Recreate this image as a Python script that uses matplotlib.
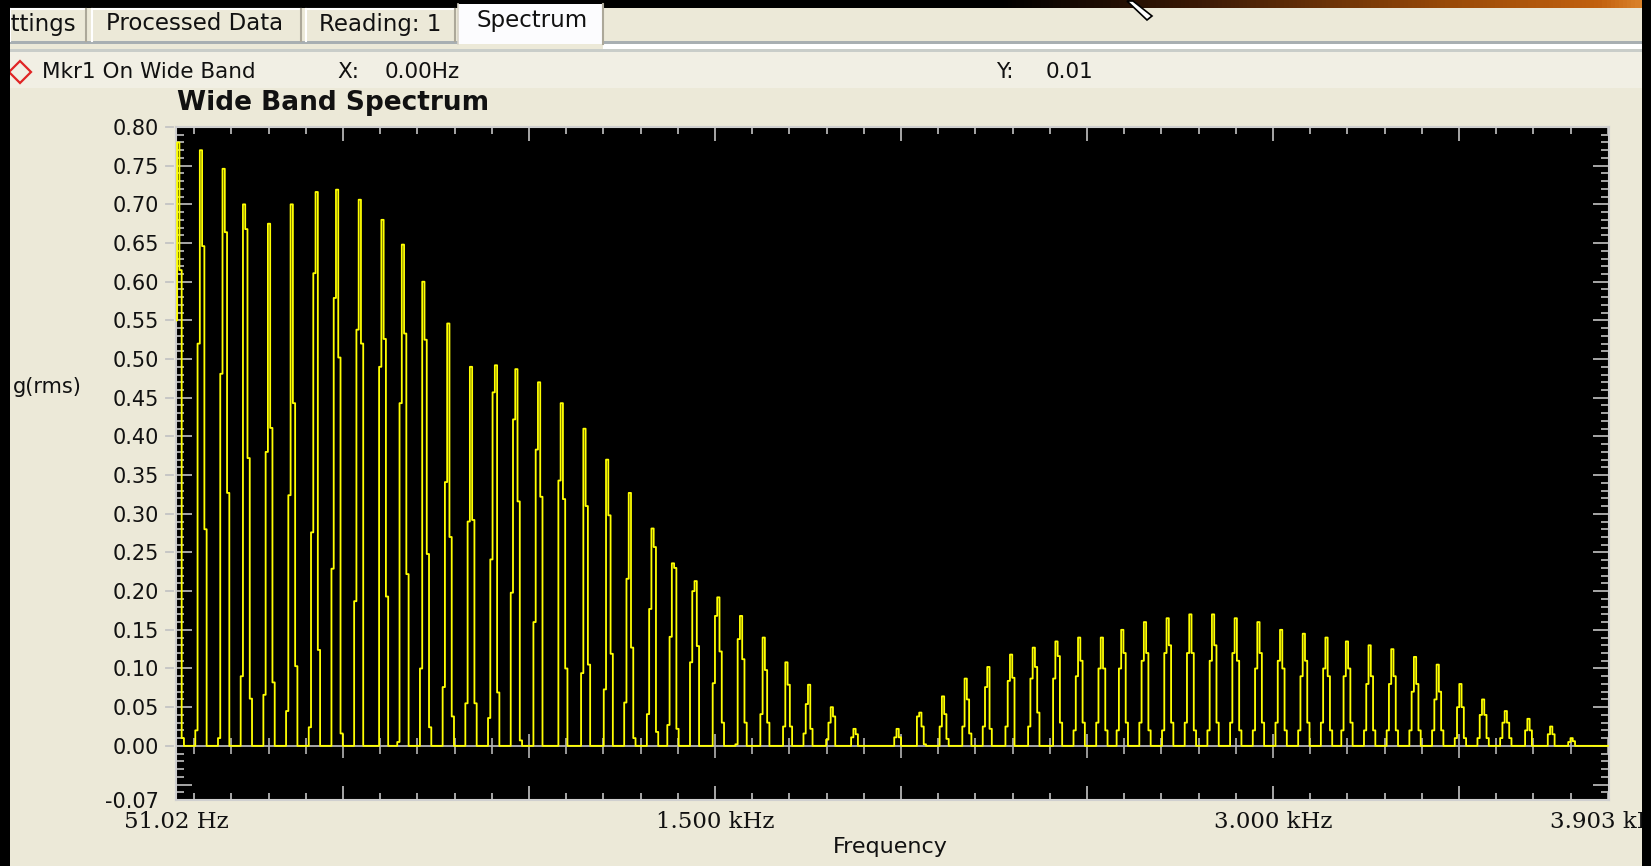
import numpy as np
import matplotlib
matplotlib.use("Agg")
import matplotlib.pyplot as plt
from matplotlib.patches import Rectangle, Polygon
from matplotlib.lines import Line2D
from matplotlib.ticker import MultipleLocator, FixedLocator, FixedFormatter
from matplotlib.transforms import blended_transform_factory

W, H, DPI = 1651, 866, 100

# ---- spectrum data: harmonic lines and the FFT bins around each one ----
harmonic_hz = [60, 121, 181, 242, 302, 362, 423, 483, 544, 604,
               664, 725, 785, 846, 906, 966, 1027, 1087, 1148, 1208,
               1268, 1329, 1389, 1450, 1510, 1570, 1631, 1691, 1752, 1812,
               1872, 1933, 1993, 2054, 2114, 2174, 2235, 2295, 2356, 2416,
               2476, 2537, 2597, 2658, 2718, 2778, 2839, 2899, 2960, 3020,
               3080, 3141, 3201, 3262, 3322, 3382, 3443, 3503, 3564, 3624,
               3684, 3745, 3805]

# amplitude (g rms) of the bins two below .. two above each harmonic
bin_m2 = [0.0, 0.02, 0.01, 0.09, 0.066, 0.045, 0.024, 0.229, 0.187, 0.0,
          0.005, 0.10, 0.076, 0.055, 0.036, 0.198, 0.16, 0.0, 0.0, 0.0,
          0.056, 0.041, 0.027, 0.108, 0.081, 0.002, 0.0, 0.0, 0.016, 0.008,
          0.0, 0.0, 0.0, 0.0, 0.0, 0.0, 0.025, 0.025, 0.025, 0.0,
          0.02, 0.03, 0.02, 0.03, 0.02, 0.03, 0.02, 0.03, 0.02, 0.03,
          0.02, 0.03, 0.02, 0.02, 0.02, 0.02, 0.02, 0.01, 0.01, 0.01,
          0.0, 0.0, 0.0]
bin_m1 = [0.55, 0.52, 0.481, 0.700, 0.380, 0.324, 0.276, 0.579, 0.538, 0.49,
          0.443, 0.60, 0.341, 0.29, 0.241, 0.422, 0.383, 0.343, 0.094, 0.073,
          0.216, 0.177, 0.141, 0.20, 0.168, 0.138, 0.041, 0.025, 0.054, 0.03,
          0.011, 0.0, 0.011, 0.038, 0.025, 0.025, 0.076, 0.084, 0.087, 0.087,
          0.09, 0.10, 0.10, 0.11, 0.12, 0.12, 0.11, 0.12, 0.10, 0.11,
          0.09, 0.10, 0.09, 0.08, 0.08, 0.07, 0.06, 0.05, 0.04, 0.03,
          0.02, 0.015, 0.005]
bin_0 = [0.78, 0.77, 0.746, 0.668, 0.675, 0.700, 0.611, 0.719, 0.706, 0.68,
         0.648, 0.525, 0.546, 0.49, 0.457, 0.487, 0.47, 0.443, 0.41, 0.37,
         0.327, 0.281, 0.236, 0.213, 0.192, 0.168, 0.14, 0.108, 0.079, 0.05,
         0.022, 0.0, 0.022, 0.043, 0.064, 0.087, 0.102, 0.118, 0.127, 0.135,
         0.14, 0.14, 0.15, 0.16, 0.165, 0.17, 0.17, 0.165, 0.16, 0.15,
         0.145, 0.14, 0.135, 0.13, 0.125, 0.115, 0.105, 0.08, 0.06, 0.045,
         0.035, 0.025, 0.01]
bin_p1 = [0.615, 0.646, 0.664, 0.372, 0.411, 0.443, 0.716, 0.502, 0.520, 0.526,
          0.533, 0.248, 0.27, 0.292, 0.492, 0.316, 0.322, 0.319, 0.31, 0.298,
          0.127, 0.257, 0.23, 0.129, 0.122, 0.112, 0.098, 0.079, 0.022, 0.038,
          0.015, 0.0, 0.011, 0.025, 0.041, 0.06, 0.022, 0.088, 0.102, 0.116,
          0.11, 0.10, 0.12, 0.12, 0.13, 0.12, 0.13, 0.11, 0.12, 0.10,
          0.11, 0.09, 0.10, 0.09, 0.09, 0.08, 0.07, 0.05, 0.04, 0.03,
          0.02, 0.015, 0.006]
bin_p2 = [0.01, 0.28, 0.327, 0.061, 0.082, 0.103, 0.124, 0.016, 0.0, 0.193,
          0.222, 0.024, 0.038, 0.055, 0.069, 0.007, 0.0, 0.10, 0.105, 0.119,
          0.01, 0.018, 0.022, 0.0, 0.03, 0.03, 0.03, 0.025, 0.0, 0.0,
          0.0, 0.0, 0.0, 0.002, 0.009, 0.016, 0.0, 0.0, 0.043, 0.03,
          0.03, 0.02, 0.03, 0.02, 0.03, 0.02, 0.03, 0.02, 0.03, 0.02,
          0.03, 0.02, 0.03, 0.02, 0.02, 0.02, 0.02, 0.01, 0.01, 0.01,
          0.0, 0.0, 0.0]

bin_hz = 6.1
f_start, f_stop = 51.02, 3903.0
y_min, y_max = -0.07, 0.80

y_tick_values = [-0.07, -0.05, 0.00, 0.05, 0.10, 0.15, 0.20, 0.25, 0.30, 0.35,
                 0.40, 0.45, 0.50, 0.55, 0.60, 0.65, 0.70, 0.75, 0.80]
y_tick_text = ["-0.07", "", "0.00", "0.05", "0.10", "0.15", "0.20", "0.25", "0.30",
               "0.35", "0.40", "0.45", "0.50", "0.55", "0.60", "0.65", "0.70",
               "0.75", "0.80"]
x_label_hz = [51.02, 1500, 3000, 3903]
x_label_text = ["51.02 Hz", "1.500 kHz", "3.000 kHz", "3.903 kHz"]
tab_text = ["Settings", "Processed Data", "Reading: 1", "Spectrum"]

# ---- assemble the bin-by-bin spectrum ----
freqs = np.arange(f_start, f_stop + bin_hz / 2, bin_hz)
amps = np.zeros_like(freqs)
for f, vals in zip(harmonic_hz, zip(bin_m2, bin_m1, bin_0, bin_p1, bin_p2)):
    c = int(round((f - f_start) / bin_hz))
    for off, v in zip(range(-2, 3), vals):
        i = c + off
        if 0 <= i < len(amps):
            amps[i] = v

PANEL = "#ECE9D8"
FONT = "DejaVu Sans"

fig = plt.figure(figsize=(W / DPI, H / DPI), dpi=DPI)
fig.patch.set_facecolor(PANEL)


def rect(x0, y0, x1, y1, color, z=1, edge="none", lw=0):
    fig.add_artist(Rectangle((x0 / W, 1 - y1 / H), (x1 - x0) / W, (y1 - y0) / H,
                             transform=fig.transFigure, facecolor=color,
                             edgecolor=edge, lw=lw, zorder=z))


def seg(x0, y0, x1, y1, color, lw=1.0, z=6):
    fig.add_artist(Line2D([x0 / W, x1 / W], [1 - y0 / H, 1 - y1 / H],
                          transform=fig.transFigure, color=color, lw=lw, zorder=z))


def ftext(x, y, s, **kw):
    kw.setdefault("family", FONT)
    kw.setdefault("va", "center")
    kw.setdefault("color", "#111111")
    fig.text(x / W, 1 - y / H, s, **kw)


# ---- window strip across the top (dark to orange) ----
strip = fig.add_axes([0, 1 - 8 / H, 1, 8 / H])
strip.set_axis_off()
xs = np.linspace(0, W, 400)
stops = [0, 1000, 1200, 1450, 1600, W]
cols = np.array([[0, 0, 0], [0, 0, 0], [0.23, 0.10, 0.02], [0.60, 0.29, 0.03],
                 [0.76, 0.38, 0.06], [0.88, 0.54, 0.19]])
grad = np.stack([np.interp(xs, stops, cols[:, k]) for k in range(3)], axis=-1)
strip.imshow(grad[None, :, :], aspect="auto", extent=(0, 1, 0, 1))

# mouse pointer tail poking into the strip
fig.add_artist(Polygon([(1127 / W, 1 - 1 / H), (1133 / W, 1 - 1 / H),
                        (1152 / W, 1 - 16 / H), (1147 / W, 1 - 20 / H)],
                       closed=True, transform=fig.transFigure,
                       facecolor="white", edgecolor="black", lw=1.2, zorder=8))

# ---- tab row ----
rect(0, 8, W, 41, PANEL, z=1)
tabs = [(10, 86), (92, 301), (306, 455)]
for (x0, x1) in tabs:
    rect(x0, 8, x1, 41, PANEL, z=2)
    seg(x0, 41, x0, 9, "white", 1.5)
    seg(x0, 9, x1, 9, "white", 1.5)
    seg(x1, 9, x1, 41, "#ACA899", 1.5)
rect(458, 4, 603, 44, "#FCFCFE", z=3)
seg(458, 44, 458, 4, "#D8D4C8", 1.2)
seg(603, 4, 603, 44, "#ACA899", 1.5)
ftext(76, 24, tab_text[0], ha="right", size=16.5)
ftext(106, 24, tab_text[1], ha="left", size=16.5)
ftext(319, 24, tab_text[2], ha="left", size=16.5)
ftext(476, 20, tab_text[3], ha="left", size=16.5)

# separator under the tabs and the marker read-out row
rect(0, 41, W, 44, "#A8AFB2", z=2)
rect(603, 44, W, 49, "#FFFFFF", z=2)
rect(0, 49, W, 52, "#C9CDC9", z=2)
rect(603, 41, W, 44, "#A8AFB2", z=4)
rect(0, 52, W, 88, "#F1EFE4", z=1)

fig.add_artist(Polygon([(9 / W, 1 - 72 / H), (20 / W, 1 - 61 / H),
                        (31 / W, 1 - 72 / H), (20 / W, 1 - 83 / H)],
                       closed=True, transform=fig.transFigure, facecolor="none",
                       edgecolor="#E02424", lw=1.6, zorder=5))
ftext(42, 72, "Mkr1 On Wide Band", size=15.5)
ftext(337, 72, "X:", size=15.5)
ftext(385, 72, "0.00Hz", size=15.5)
ftext(996, 72, "Y:", size=15.5)
ftext(1046, 72, "0.01", size=15.5)

# ---- chart ----
ftext(177, 103, "Wide Band Spectrum", size=19, weight="bold")
ftext(13, 387, "g(rms)", size=15)
ftext(890, 847, "Frequency", ha="center", size=16)

L, R, T, B = 176, 1609, 127, 800
ax = fig.add_axes([L / W, 1 - B / H, (R - L) / W, (B - T) / H])
ax.set_facecolor("black")
ax.set_xlim(f_start, f_stop)
ax.set_ylim(y_min, y_max)

ax.axhline(0.0, color="#B4B4B4", lw=1.3, zorder=2)
zero_minor = [f for f in np.arange(100, 3901, 100) if f % 500]
zero_major = list(np.arange(500, 3901, 500))
ax.plot(zero_minor, np.zeros(len(zero_minor)), ls="none", marker="|", ms=11,
        mew=1.2, color="#B4B4B4", zorder=2)
ax.plot(zero_major, np.zeros(len(zero_major)), ls="none", marker="|", ms=17,
        mew=1.2, color="#B4B4B4", zorder=2)

ax.plot(freqs, amps, color="#FFFF00", lw=1.3, drawstyle="steps-mid", zorder=3)

for s in ax.spines.values():
    s.set_color("#CFCFCF")
    s.set_linewidth(1.5)

tick_col = "#D4D4D4"
ax.xaxis.set_major_locator(MultipleLocator(500))
ax.xaxis.set_minor_locator(MultipleLocator(100))
ax.tick_params(axis="x", which="both", direction="in", top=True, bottom=True,
               labelbottom=False, color=tick_col, width=1.1)
ax.tick_params(axis="x", which="major", length=10)
ax.tick_params(axis="x", which="minor", length=5)

ax.yaxis.set_major_locator(FixedLocator(y_tick_values))
ax.yaxis.set_major_formatter(FixedFormatter(y_tick_text))
ax.yaxis.set_minor_locator(MultipleLocator(0.01))
ax.tick_params(axis="y", which="both", direction="in", left=True, right=True,
               color=tick_col, width=1.1)
ax.tick_params(axis="y", which="major", length=11.5, pad=12, labelsize=15,
               labelcolor="#111111")
ax.tick_params(axis="y", which="minor", length=5.5)
for lab in ax.get_yticklabels():
    lab.set_family(FONT)

# short grey dashes left of the y axis at each labelled value
tr_y = blended_transform_factory(ax.transAxes, ax.transData)
for v, t in zip(y_tick_values, y_tick_text):
    if t and v >= 0:
        ax.plot([-10 / (R - L), -3 / (R - L)], [v, v], transform=tr_y,
                color="#C4C4C4", lw=1.3, clip_on=False)

tr_x = blended_transform_factory(ax.transData, ax.transAxes)
for f, s in zip(x_label_hz, x_label_text):
    ax.text(f, -22 / (B - T), s, transform=tr_x, ha="center", va="center",
            family="DejaVu Serif", size=16.5, color="#111111", clip_on=False)

# dark window edges
rect(0, 0, 10, H, "black", z=20)
rect(1642, 0, W, H, "black", z=20)

fig.savefig("out.png", dpi=DPI, facecolor=fig.get_facecolor())
